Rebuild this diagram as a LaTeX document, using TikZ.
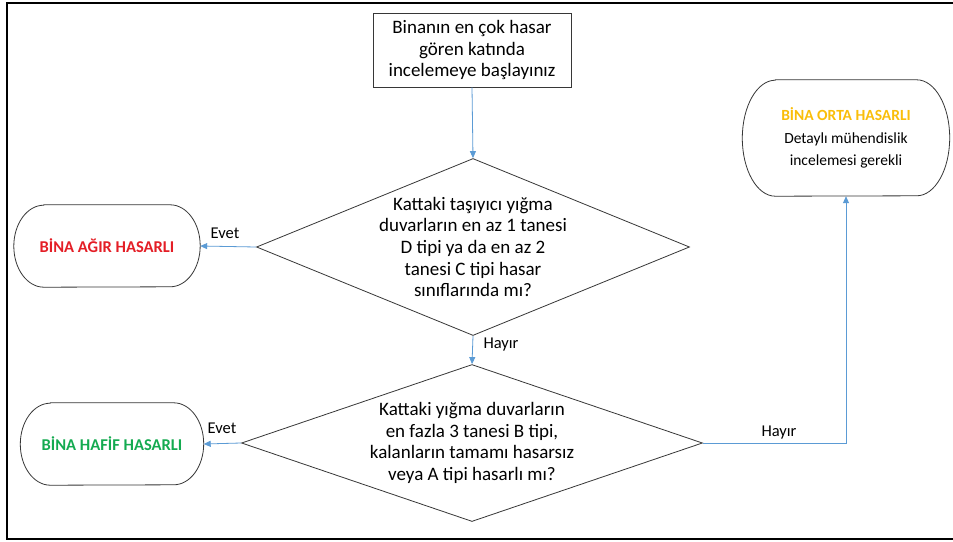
\documentclass[tikz,border=0pt]{standalone}
\usepackage{fontspec}
\setmainfont{Carlito}
\usetikzlibrary{shapes.geometric,arrows.meta}
\definecolor{arrowblue}{RGB}{91,155,213}
\definecolor{agir}{RGB}{228,30,38}
\definecolor{hafif}{RGB}{20,170,80}
\definecolor{orta}{RGB}{250,190,10}
\definecolor{edgecol}{RGB}{55,55,55}
\newcommand{\terminator}[3]{%
  \draw[edgecol,line width=0.8pt] ([xshift=#2]#1.north west) -- ([xshift=-#2]#1.north east)
    arc[start angle=90,end angle=-90,x radius=#2,y radius=#3]
    -- ([xshift=#2]#1.south west)
    arc[start angle=270,end angle=90,x radius=#2,y radius=#3] -- cycle;}
\begin{document}
\begin{tikzpicture}[x=1pt,y=1pt,
  bigtext/.style={font=\fontsize{19}{21.7}\selectfont,align=center},
  smalltext/.style={font=\fontsize{16.5}{20}\selectfont},
  termbox/.style={inner sep=0pt,align=center},
  dia/.style={diamond,draw=edgecol,line width=0.8pt,inner sep=0pt},
  flow/.style={arrowblue,line width=0.8pt,-{Triangle[length=7pt,width=6pt]}}]
\useasboundingbox (0,0) rectangle (953,-541);
\fill[white] (0,0) rectangle (953,-541);
\draw[black,line width=1.8pt] (7,-3) rectangle (975,-539);

\node[draw=edgecol,line width=0.8pt,minimum width=198,minimum height=74,inner sep=0pt,bigtext] (start) at (472,-50)
  {Binanın en çok hasar\\gören katında\\incelemeye başlayınız};

\node[dia,minimum width=433,minimum height=177] (d1) at (473,-247) {};
\node[bigtext] (d1t) at (473,-247) {Kattaki taşıyıcı yığma\\duvarların en az 1 tanesi\\D tipi ya da en az 2\\tanesi C tipi hasar\\sınıflarında mı?};

\node[dia,minimum width=461,minimum height=157] (d2) at (472,-443) {};
\node[bigtext] (d2t) at (472,-443) {Kattaki yığma duvarların\\en fazla 3 tanesi B tipi,\\kalanların tamamı hasarsız\\veya A tipi hasarlı mı?};

\node[termbox,minimum width=186,minimum height=82] (t1) at (107,-246)
  {\fontsize{16.5}{20}\selectfont\bfseries\color{agir}BİNA AĞIR HASARLI};
\terminator{t1}{30}{41}

\node[termbox,minimum width=183,minimum height=82] (t2) at (112,-444)
  {\fontsize{16.5}{20}\selectfont\bfseries\color{hafif}BİNA HAFİF HASARLI};
\terminator{t2}{30}{41}

\node[termbox,minimum width=207,minimum height=116,font=\fontsize{15.5}{22.5}\selectfont] (t3) at (846,-138)
  {{\bfseries\color{orta}BİNA ORTA HASARLI}\\Detaylı mühendislik\\incelemesi gerekli};
\terminator{t3}{33}{58}

\draw[flow] (start.south) -- (d1.north);
\draw[flow] (d1.west) -- (t1.east);
\draw[flow] (d1.south) -- (d2.north);
\draw[flow] (d2.west) -- (t2.east);
\draw[flow] (d2.east) -| (t3.south);

\node[smalltext] (e1) at (225,-233) {Evet};
\node[smalltext] (e2) at (222,-428) {Evet};
\node[smalltext] (h1) at (501,-345) {Hayır};
\node[smalltext] (h2) at (779,-433) {Hayır};
\end{tikzpicture}
\end{document}
